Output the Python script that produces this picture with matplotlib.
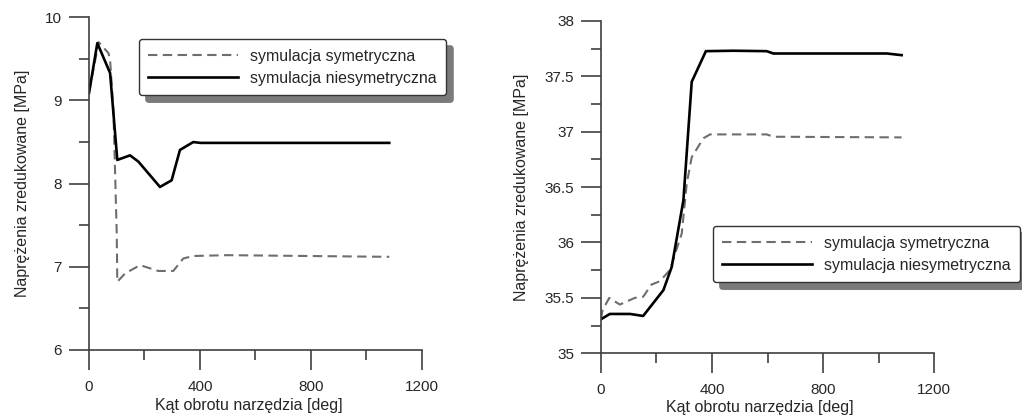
import matplotlib
matplotlib.use("Agg")
import matplotlib.pyplot as plt
from matplotlib.ticker import MultipleLocator, FuncFormatter

plt.rcParams['font.family'] = ['Liberation Sans', 'DejaVu Sans']

# Left panel data
l_sym_x = [0, 35, 70, 76, 88, 100, 102, 130, 184, 250, 304, 340, 376, 500, 1083]
l_sym_y = [9.10, 9.70, 9.57, 9.49, 8.88, 7.40, 6.82, 6.92, 7.02, 6.95, 6.95, 7.10, 7.13, 7.14, 7.12]
l_asym_x = [0, 30, 76, 102, 148, 178, 256, 298, 328, 376, 402, 1083]
l_asym_y = [9.09, 9.69, 9.33, 8.285, 8.34, 8.265, 7.96, 8.04, 8.405, 8.50, 8.49, 8.49]

# Right panel data
r_sym_x = [0, 6, 30, 68, 122, 152, 182, 212, 248, 291, 309, 327, 369, 393, 597, 621, 1083]
r_sym_y = [35.31, 35.39, 35.50, 35.44, 35.50, 35.51, 35.62, 35.65, 35.75, 36.08, 36.53, 36.77, 36.94, 36.975, 36.975, 36.954, 36.948]
r_asym_x = [0, 32, 105, 152, 225, 255, 297, 327, 378, 477, 597, 621, 1030, 1083]
r_asym_y = [35.307, 35.355, 35.355, 35.337, 35.57, 35.78, 36.38, 37.45, 37.726, 37.73, 37.726, 37.705, 37.705, 37.69]

labels = ['symulacja symetryczna', 'symulacja niesymetryczna']
xlabel = 'Kąt obrotu narzędzia [deg]'
ylabel = 'Naprężenia zredukowane [MPa]'

TICK_FS = 11
LAB_FS = 11.5
LEG_FS = 11.5

fig = plt.figure(figsize=(10.22, 4.16), dpi=100)
ax1 = fig.add_axes([0.0871, 0.1587, 0.3255, 0.7997])
ax2 = fig.add_axes([0.588, 0.1507, 0.326, 0.7993])

dash_col = '#6e6e6e'
spine_col = '#404040'
text_col = '#262626'

def style(ax, ylim, ymaj, ymin):
    ax.set_xlim(0, 1200)
    ax.set_ylim(*ylim)
    ax.xaxis.set_major_locator(MultipleLocator(400))
    ax.xaxis.set_minor_locator(MultipleLocator(200))
    ax.yaxis.set_major_locator(MultipleLocator(ymaj))
    ax.yaxis.set_minor_locator(MultipleLocator(ymin))
    ax.yaxis.set_major_formatter(FuncFormatter(lambda v, p: '%g' % v))
    for s in ['top', 'right']:
        ax.spines[s].set_visible(False)
    for s in ['left', 'bottom']:
        ax.spines[s].set_color(spine_col)
        ax.spines[s].set_linewidth(1.2)
    ax.tick_params(which='major', direction='out', length=14.4, width=1.2, color=spine_col,
                   labelsize=TICK_FS, labelcolor=text_col)
    ax.tick_params(axis='x', which='major', pad=7)
    ax.tick_params(axis='y', which='major', pad=5)
    ax.tick_params(which='minor', direction='out', length=7.2, width=1.2, color=spine_col)
    ax.set_xlabel(xlabel, fontsize=LAB_FS, color=text_col)
    ax.set_ylabel(ylabel, fontsize=LAB_FS, color=text_col)

def draw(ax, sx, sy, ax_, ay, anchor):
    ax.plot(sx, sy, color=dash_col, lw=1.5, linestyle=(0, (4.5, 2.6)), label=labels[0])
    ax.plot(ax_, ay, color='black', lw=1.9, label=labels[1])
    leg = ax.legend(loc='upper left', bbox_to_anchor=anchor, borderaxespad=0,
                    fontsize=LEG_FS, handlelength=5.6, handletextpad=0.75,
                    labelspacing=0.45, borderpad=0.6, fancybox=True,
                    shadow={'ox': 5, 'oy': -5, 'color': '#7a7a7a', 'alpha': 1},
                    frameon=True, edgecolor='#333333', framealpha=1)
    leg.get_frame().set_linewidth(1.0)
    for t in leg.get_texts():
        t.set_color(text_col)

draw(ax1, l_sym_x, l_sym_y, l_asym_x, l_asym_y, (0.150, 0.935))
style(ax1, (6, 10), 1, 0.5)
draw(ax2, r_sym_x, r_sym_y, r_asym_x, r_asym_y, (0.336, 0.383))
style(ax2, (35, 38), 0.5, 0.25)

ax1.xaxis.set_label_coords(0.479, -0.143)
ax2.xaxis.set_label_coords(0.477, -0.14)
ax1.yaxis.set_label_coords(-0.177, 0.5)
ax2.yaxis.set_label_coords(-0.216, 0.5)

fig.savefig('out.png', dpi=100)
